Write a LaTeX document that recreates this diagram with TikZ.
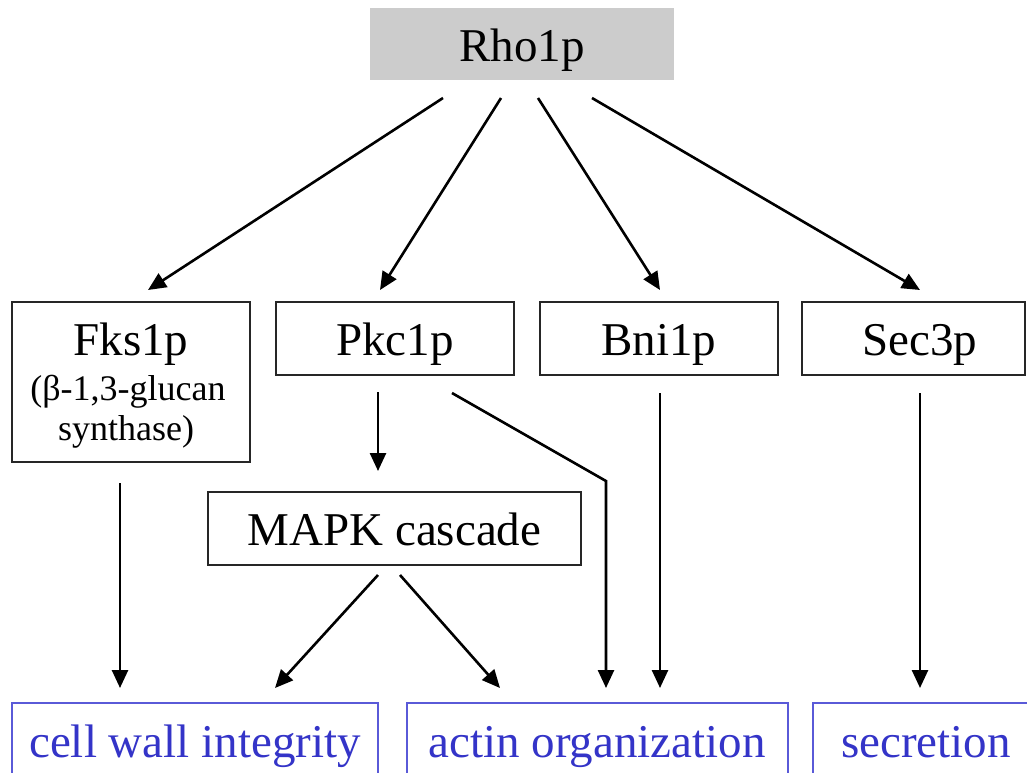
\documentclass[tikz,border=0pt]{standalone}
\usepackage{fontspec}
\setmainfont{Liberation Serif}
\newfontfamily\tnr{Liberation Serif}
\usetikzlibrary{arrows.meta}
\definecolor{boxblue}{HTML}{5A5AD8}
\definecolor{txtblue}{HTML}{3434C8}
\definecolor{rhogray}{HTML}{CCCCCC}
\begin{document}
\begin{tikzpicture}[x=1pt,y=-1pt,
  topbox/.style={draw=black!85, line width=1.5pt, inner sep=0pt, minimum height=73pt},
  botbox/.style={draw=boxblue, line width=1.2pt, inner sep=0pt},
  big/.style={font=\tnr\fontsize{47}{50}\selectfont, anchor=base, inner sep=0pt},
  small/.style={font=\tnr\fontsize{36}{40}\selectfont, anchor=base, inner sep=0pt},
  bluetxt/.style={big, text=txtblue},
  arr/.style={line width=2.6pt, -{Triangle[length=18pt,width=16pt]}}]
\useasboundingbox (0,0) rectangle (1027,772);
\clip (0,0) rectangle (1027,772);
\fill[white] (0,0) rectangle (1027,772);
% top node
\node[fill=rhogray, inner sep=0pt, minimum width=304pt, minimum height=72pt] (rho) at (522,44) {};
\node[big] (rhot) at (522,61) {Rho1p};
% second row
\node[topbox, minimum width=238pt, minimum height=160pt] (fks) at (131,382) {};
\node[big] (fkst) at (131,355) {Fks1p};
\node[small] (fkss1) at (128,400) {(β-1,3-glucan};
\node[small] (fkss2) at (126,440) {synthase)};
\node[topbox, minimum width=238pt] (pkc) at (395,338.5) {};
\node[big] (pkct) at (395,355) {Pkc1p};
\node[topbox, minimum width=238pt] (bni) at (659,338.5) {};
\node[big] (bnit) at (659,355) {Bni1p};
\node[topbox, minimum width=223pt] (sec) at (913.5,338.5) {};
\node[big] (sect) at (920,355) {Sec3p};
% MAPK
\node[topbox, minimum width=373pt] (mapk) at (394.5,528.5) {};
\node[big] (mapkt) at (394.5,545) {MAPK cascade};
% bottom
\node[botbox, minimum width=366pt, minimum height=100pt] (cwi) at (195,753) {};
\node[bluetxt] (cwit) at (195,757) {cell wall integrity};
\node[botbox, minimum width=381pt, minimum height=100pt] (act) at (597.5,753) {};
\node[bluetxt] (actt) at (597,757) {actin organization};
\node[botbox, minimum width=230pt, minimum height=100pt] (secr) at (928,753) {};
\node[bluetxt] (secrt) at (926,757) {secretion};
% arrow endpoints
\coordinate (r1) at (443,98);  \coordinate (f1) at (148,290);
\coordinate (r2) at (501,98);  \coordinate (p1) at (380,290);
\coordinate (r3) at (538,98);  \coordinate (b1) at (660,290);
\coordinate (r4) at (592,98);  \coordinate (s1) at (920,290);
\coordinate (f2) at (120,483); \coordinate (c1) at (120,688);
\coordinate (p2) at (378,392); \coordinate (m1) at (378,471);
\coordinate (p3) at (452,393); \coordinate (bend) at (606,481); \coordinate (a1) at (606,688);
\coordinate (b2) at (660,393); \coordinate (a2) at (660,688);
\coordinate (s2) at (920,393); \coordinate (e1) at (920,688);
\coordinate (m2) at (378,575); \coordinate (c2) at (275,688);
\coordinate (m3) at (400,575); \coordinate (a3) at (500,688);
\draw[arr] (r1) -- (f1);
\draw[arr] (r2) -- (p1);
\draw[arr] (r3) -- (b1);
\draw[arr] (r4) -- (s1);
\draw[arr] (f2) -- (c1);
\draw[arr] (p2) -- (m1);
\draw[arr] (p3) -- (bend) -- (a1);
\draw[arr] (b2) -- (a2);
\draw[arr] (s2) -- (e1);
\draw[arr] (m2) -- (c2);
\draw[arr] (m3) -- (a3);
\end{tikzpicture}
\end{document}
